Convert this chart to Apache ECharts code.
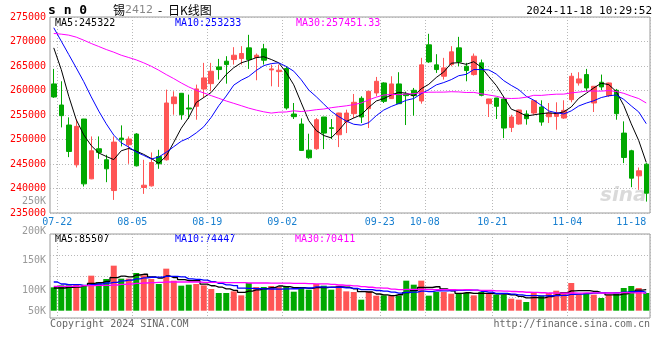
<!DOCTYPE html>
<html><head><meta charset="utf-8">
<script src="https://cdn.jsdelivr.net/npm/echarts@6/dist/echarts.min.js"></script>
<style>html,body{margin:0;padding:0;background:#fff}#c{width:660px;height:360px}</style>
</head><body><div id="c"></div>
<script>
const dates = ['07-19','07-22','07-23','07-24','07-25','07-26','07-29','07-30','07-31','08-01','08-02','08-05','08-06','08-07','08-08','08-09','08-12','08-13','08-14','08-15','08-16','08-19','08-20','08-21','08-22','08-23','08-26','08-27','08-28','08-29','08-30','09-02','09-03','09-04','09-05','09-06','09-09','09-10','09-11','09-12','09-13','09-18','09-19','09-20','09-23','09-24','09-25','09-26','09-27','09-30','10-08','10-09','10-10','10-11','10-14','10-15','10-16','10-17','10-18','10-21','10-22','10-23','10-24','10-25','10-28','10-29','10-30','10-31','11-01','11-04','11-05','11-06','11-07','11-08','11-11','11-12','11-13','11-14','11-15','11-18'];
const tickDates = ['07-22','08-05','08-19','09-02','09-23','10-08','10-21','11-04','11-18'];
const gridDates = ['07-22','08-05','08-19','09-02','09-23','10-08','10-21','11-04'];

const opens = [261340,257040,252950,244830,254180,241970,248110,245860,239580,250290,
248930,251110,240200,240540,246540,245860,257320,259430,256430,256770,
260300,261400,264820,265980,266320,266520,268700,266730,268500,264200,
263860,264480,255200,253160,247830,248110,254590,252400,250970,253560,
255270,258410,256290,259500,261540,258340,261340,259290,260040,257860,
269320,265230,262910,265290,268700,264950,263250,265640,257310,258470,
258270,252470,253160,255200,255400,256630,254650,254720,254380,258130,
261540,263250,257450,261680,258950,260040,251310,247700,242580,244970];
const closes = [258680,254860,247560,252680,240950,247700,247360,244020,249470,249950,
250090,244630,240670,245310,245040,257450,258680,255060,256220,260320,
262570,263930,264270,265290,267200,267550,266320,267200,266180,264410,
264140,256430,254660,247770,246270,254040,251310,252270,255400,255400,
257590,254590,259840,261880,257790,261340,257310,258950,258950,265230,
265840,264270,264610,267890,265840,264070,267000,259020,258270,256770,
252340,254590,256020,254250,257930,253560,255400,255400,255950,262910,
262360,260520,260860,260730,261540,255270,246330,242110,243610,239040];
const lows = [258500,252470,246400,244290,240400,241900,246060,241290,237670,248590,
245040,244500,238900,240400,244020,245700,255060,254040,254180,254040,
258470,259840,262230,261400,265290,265290,264410,262090,265290,260860,
260730,256090,254180,247700,246060,247900,248040,250090,248450,251310,
254380,253360,252340,258820,257450,258270,257300,252950,254860,257310,
265640,263590,262230,264950,264950,261880,263040,258820,254590,254180,
250290,251520,253020,253020,255060,252810,253360,252000,254180,257590,
261000,259840,255610,260040,258680,254040,245180,240270,239720,237330];
const highs = [264410,261880,254520,254180,254200,250630,250630,246880,250630,252880,
250630,251300,245860,247360,247900,260180,259840,259500,259160,261200,
265640,265640,266450,267000,268840,269050,271360,267550,269520,265290,
265290,264950,257450,254310,251180,254380,254600,254180,255450,256090,
259290,258820,259900,262770,261680,262910,263730,259770,260520,266660,
271570,267410,266660,269050,270950,265640,267550,266320,258300,258500,
258820,255060,256090,255950,258000,258000,257450,257590,258000,263590,
263730,264410,260900,263250,261600,260320,253700,247900,244290,245180];

const ma5 = [268700,264270,258820,254040,250950,248750,247250,246540,245900,247700,
248180,247630,246960,246130,245150,246620,249430,252310,254490,257550,
258570,259620,261460,263280,264650,265650,266130,266710,266890,266330,
265650,263670,261160,257480,253850,251830,250810,250330,251860,253680,
254390,255050,256560,257860,258340,259090,259630,259450,258870,260360,
261260,262650,263780,265570,265690,265340,265880,264760,262840,261030,
258680,256200,255600,254790,255030,255270,255430,255310,255650,256640,
258400,259430,260520,261480,261200,259780,256950,253200,249770,245322];
const ma10 = [272800,270070,267340,264610,261800,258700,255800,253200,250900,249320,
248460,247440,246750,246020,246420,247400,248530,249640,250310,251350,
252600,254530,256890,258880,261100,262110,262870,264090,265080,265490,
265650,264900,263940,262190,260090,258740,257240,255750,254670,253770,
253110,252930,253450,254860,256010,256740,257340,258010,258360,259350,
260170,261140,261620,262220,263020,263300,264270,264270,264200,263360,
262010,261040,260180,258820,258030,256980,255820,255450,255220,255840,
256840,257430,257910,258560,258920,259090,258190,256860,255620,253233];
const ma30 = [271640,271500,271300,270890,270270,269590,268980,268360,267820,267200,
266730,266250,265640,264950,264140,263250,262430,261540,260730,260040,
259500,258950,258410,257860,257380,256900,256400,256000,255650,255390,
255570,255620,255860,255700,255870,256080,256220,256490,256690,256870,
257120,257450,258090,258640,259070,259200,259150,259280,259370,259540,
259650,259660,259670,259750,259710,259590,259620,259340,259080,258830,
258430,258370,258420,258630,259020,259000,259140,259250,259260,259510,
259670,259870,259900,259870,259990,259790,259420,258860,258350,257451.33];

const volumes = [95000,103100,103100,105800,101800,142500,116700,128900,183200,130300,
130300,153300,143800,128900,108600,171000,122100,101800,105800,108600,
103100,88200,71900,71900,78700,62400,112600,96300,96300,100400,
96300,100400,77300,96300,85500,108600,101800,85500,101800,78700,
76000,44800,78700,61100,62400,61100,61100,122100,105800,122100,
61100,76000,76000,69200,71900,71900,62400,76000,69200,65100,
65100,48900,44800,35300,71900,61100,71900,81400,76000,112600,
67900,71900,65100,51600,63800,69200,92300,100400,92300,71900];
const volMa5 = [92300,92300,95000,96300,101800,111300,114000,119100,134600,140300,
137900,145200,148200,137300,133000,141100,134900,126500,121900,121900,
108300,101500,95500,88700,82800,74600,79500,84400,89300,93600,
100400,98000,94200,94200,91200,93600,93900,95500,96600,95300,
88700,77300,76000,67900,64600,61600,64900,73500,82500,94400,
94400,97400,88200,80900,70800,73000,70300,70300,70300,68900,
67600,64900,58600,51800,53200,52400,57000,64300,72500,80600,
82000,82000,78700,73800,64100,64300,68400,75400,83600,85507];
const volMa10 = [116700,108600,105800,105800,103100,105800,108600,112600,115300,121000,
124600,129600,133700,136000,136600,139500,140000,137300,129600,127400,
124700,118200,111000,105300,102300,91500,90500,90000,89000,88200,
87500,88700,89300,91700,92400,97000,95900,94900,95400,93200,
91200,85600,85800,82200,79900,75200,71100,74800,75200,79500,
78000,81100,80900,81700,82600,83700,83900,79200,75600,69900,
70300,67600,64500,61100,61100,60000,60900,61500,62200,66900,
67200,69500,71500,73100,72300,73100,75200,77100,78700,74447];
const volMa30 = [99100,99100,99100,99100,101800,101800,103100,103100,104500,107200,
108600,111300,112600,114000,115300,116700,116700,116700,116700,116700,
115300,115300,115300,114000,114000,114000,112600,112600,112600,112200,
112200,112200,111300,111000,110500,109400,108800,107300,104600,103000,
101100,97600,95400,93100,91600,87900,85900,86600,86600,87000,
85600,85200,85400,85200,84900,85400,83600,82900,82100,80900,
79800,78200,77100,75000,74500,73000,71900,71800,71000,72100,
71800,72700,72300,71900,72100,72300,73300,72600,72200,70411];

const UP = '#ff5555', DOWN = '#00a800';
const MONO = 'DejaVu Sans Mono';
const dotted = {show: true, lineStyle: {color: '#b8b8b8', type: [1, 2], width: 1}};
const gridDot = (i, v) => gridDates.indexOf(v) >= 0;

const candle = dates.map((d, i) => [opens[i], closes[i], lows[i], highs[i]]);
const volData = volumes.map((v, i) => ({value: v, itemStyle: {color: closes[i] > opens[i] ? UP : DOWN}}));

const chart = echarts.init(document.getElementById('c'), null, {renderer: 'canvas'});
const hiddenCat = (g) => ({gridIndex: g, type: 'category', data: dates, boundaryGap: true,
  axisLine: {show: false}, axisTick: {show: false}, axisLabel: {show: false}, splitLine: {show: false}});
const lineS = (name, data, color, xi, yi, w, step) => ({name, type: 'line', data, xAxisIndex: xi, yAxisIndex: yi,
  symbol: 'none', step: step || false, lineStyle: {color, width: w}, itemStyle: {color}, silent: true, z: 3});

const txt = (x, y, text, fill, font, align) => ({type: 'text', x, y, silent: true,
  style: {text, fill, font, align: align || 'left', verticalAlign: 'middle'}});

chart.setOption({
  animation: false,
  grid: [
    {left: 50, top: 17, width: 600, height: 196, show: true, borderColor: '#9a9a9a', borderWidth: 1},
    {left: 50, top: 234, width: 600, height: 76.7},
    {left: 50, top: 234, width: 600, height: 84, show: true, borderColor: '#9a9a9a', borderWidth: 1},
    {left: 50, top: 201.5, width: 600, height: 118}
  ],
  xAxis: [
    {gridIndex: 0, type: 'category', data: dates, boundaryGap: true,
      axisLine: {show: false}, axisTick: {show: false},
      axisLabel: {interval: (i, v) => tickDates.indexOf(v) >= 0, color: '#1a80d0', fontFamily: MONO, fontSize: 10, margin: 4,
        alignMaxLabel: 'right',
        formatter: v => v === '11-18' ? '{e|' + v + '}' : '{n|' + v + '}',
        rich: {n: {padding: [0, 8, 0, 0], color: '#1a80d0', fontFamily: MONO, fontSize: 10}, e: {color: '#1a80d0', fontFamily: MONO, fontSize: 10}}},
      splitLine: Object.assign({interval: gridDot}, dotted)},
    hiddenCat(1),
    Object.assign(hiddenCat(2), {splitLine: Object.assign({interval: gridDot}, dotted)}),
    hiddenCat(3)
  ],
  yAxis: [
    {gridIndex: 0, type: 'value', min: 235000, max: 275000, interval: 5000,
      axisLine: {show: false}, axisTick: {show: false},
      axisLabel: {color: '#ff0000', fontFamily: MONO, fontSize: 10, margin: 4, formatter: v => String(v)},
      splitLine: dotted},
    {gridIndex: 1, type: 'value', min: 0, max: 312000, show: false, splitLine: {show: false}},
    {gridIndex: 2, type: 'value', min: 0, max: 4, interval: 1, axisLine: {show: false}, axisTick: {show: false},
      axisLabel: {show: false}, splitLine: dotted},
    {gridIndex: 3, type: 'value', min: 50000, max: 250000, interval: 50000, axisLine: {show: false}, axisTick: {show: false},
      splitLine: {show: false},
      axisLabel: {color: '#999999', fontFamily: MONO, fontSize: 10, margin: 4, lineHeight: 17,
        formatter: v => v === 50000 ? (v / 1000) + 'K\n' : (v / 1000) + 'K'}}
  ],
  series: [
    {type: 'candlestick', data: candle, xAxisIndex: 0, yAxisIndex: 0, barWidth: 5,
      itemStyle: {color: UP, color0: DOWN, borderColor: UP, borderColor0: DOWN, borderWidth: 1}, silent: true},
    lineS('MA5', ma5, '#000000', 0, 0, 1),
    lineS('MA10', ma10, '#0000ff', 0, 0, 1),
    lineS('MA30', ma30, '#ff00ff', 0, 0, 1),
    {type: 'bar', data: volData, xAxisIndex: 1, yAxisIndex: 1, barWidth: 6, silent: true},
    lineS('VMA5', volMa5, '#000000', 1, 1, 1.3, 'middle'),
    lineS('VMA10', volMa10, '#0000ff', 1, 1, 1.3, 'middle'),
    lineS('VMA30', volMa30, '#ff00ff', 1, 1, 1.3, 'middle')
  ],
  graphic: [
    txt(48, 11, 's n 0', '#000', 'bold 13px "' + MONO + '"'),
    txt(113, 10, '锡', '#000', '12px "Noto Sans CJK SC"'),
    txt(125, 10, '2412', '#888', '11px "DejaVu Sans"'),
    txt(158, 10, '-', '#000', '12px "Noto Sans CJK SC"'),
    txt(168, 10, '日K线图', '#000', '12px "Noto Sans CJK SC"'),
    txt(652, 11, '2024-11-18 10:29:52', '#000', '11px "' + MONO + '"', 'right'),
    txt(55, 23, 'MA5:' + ma5[ma5.length - 1], '#000', '10px "' + MONO + '"'),
    txt(175, 23, 'MA10:' + ma10[ma10.length - 1], '#0000ff', '10px "' + MONO + '"'),
    txt(296, 23, 'MA30:' + ma30[ma30.length - 1], '#ff00ff', '10px "' + MONO + '"'),
    txt(55, 239, 'MA5:' + volMa5[volMa5.length - 1], '#000', '10px "' + MONO + '"'),
    txt(175, 239, 'MA10:' + volMa10[volMa10.length - 1], '#0000ff', '10px "' + MONO + '"'),
    txt(295, 239, 'MA30:' + volMa30[volMa30.length - 1], '#ff00ff', '10px "' + MONO + '"'),
    txt(50, 324, 'Copyright 2024 SINA.COM', '#666', '10px "' + MONO + '"'),
    txt(650, 324, 'http://finance.sina.com.cn', '#666', '10px "' + MONO + '"', 'right'),
    txt(600, 196, 'sina', 'rgba(150,150,150,0.35)', 'italic bold 20px "DejaVu Sans"')
  ]
});
</script></body></html>
